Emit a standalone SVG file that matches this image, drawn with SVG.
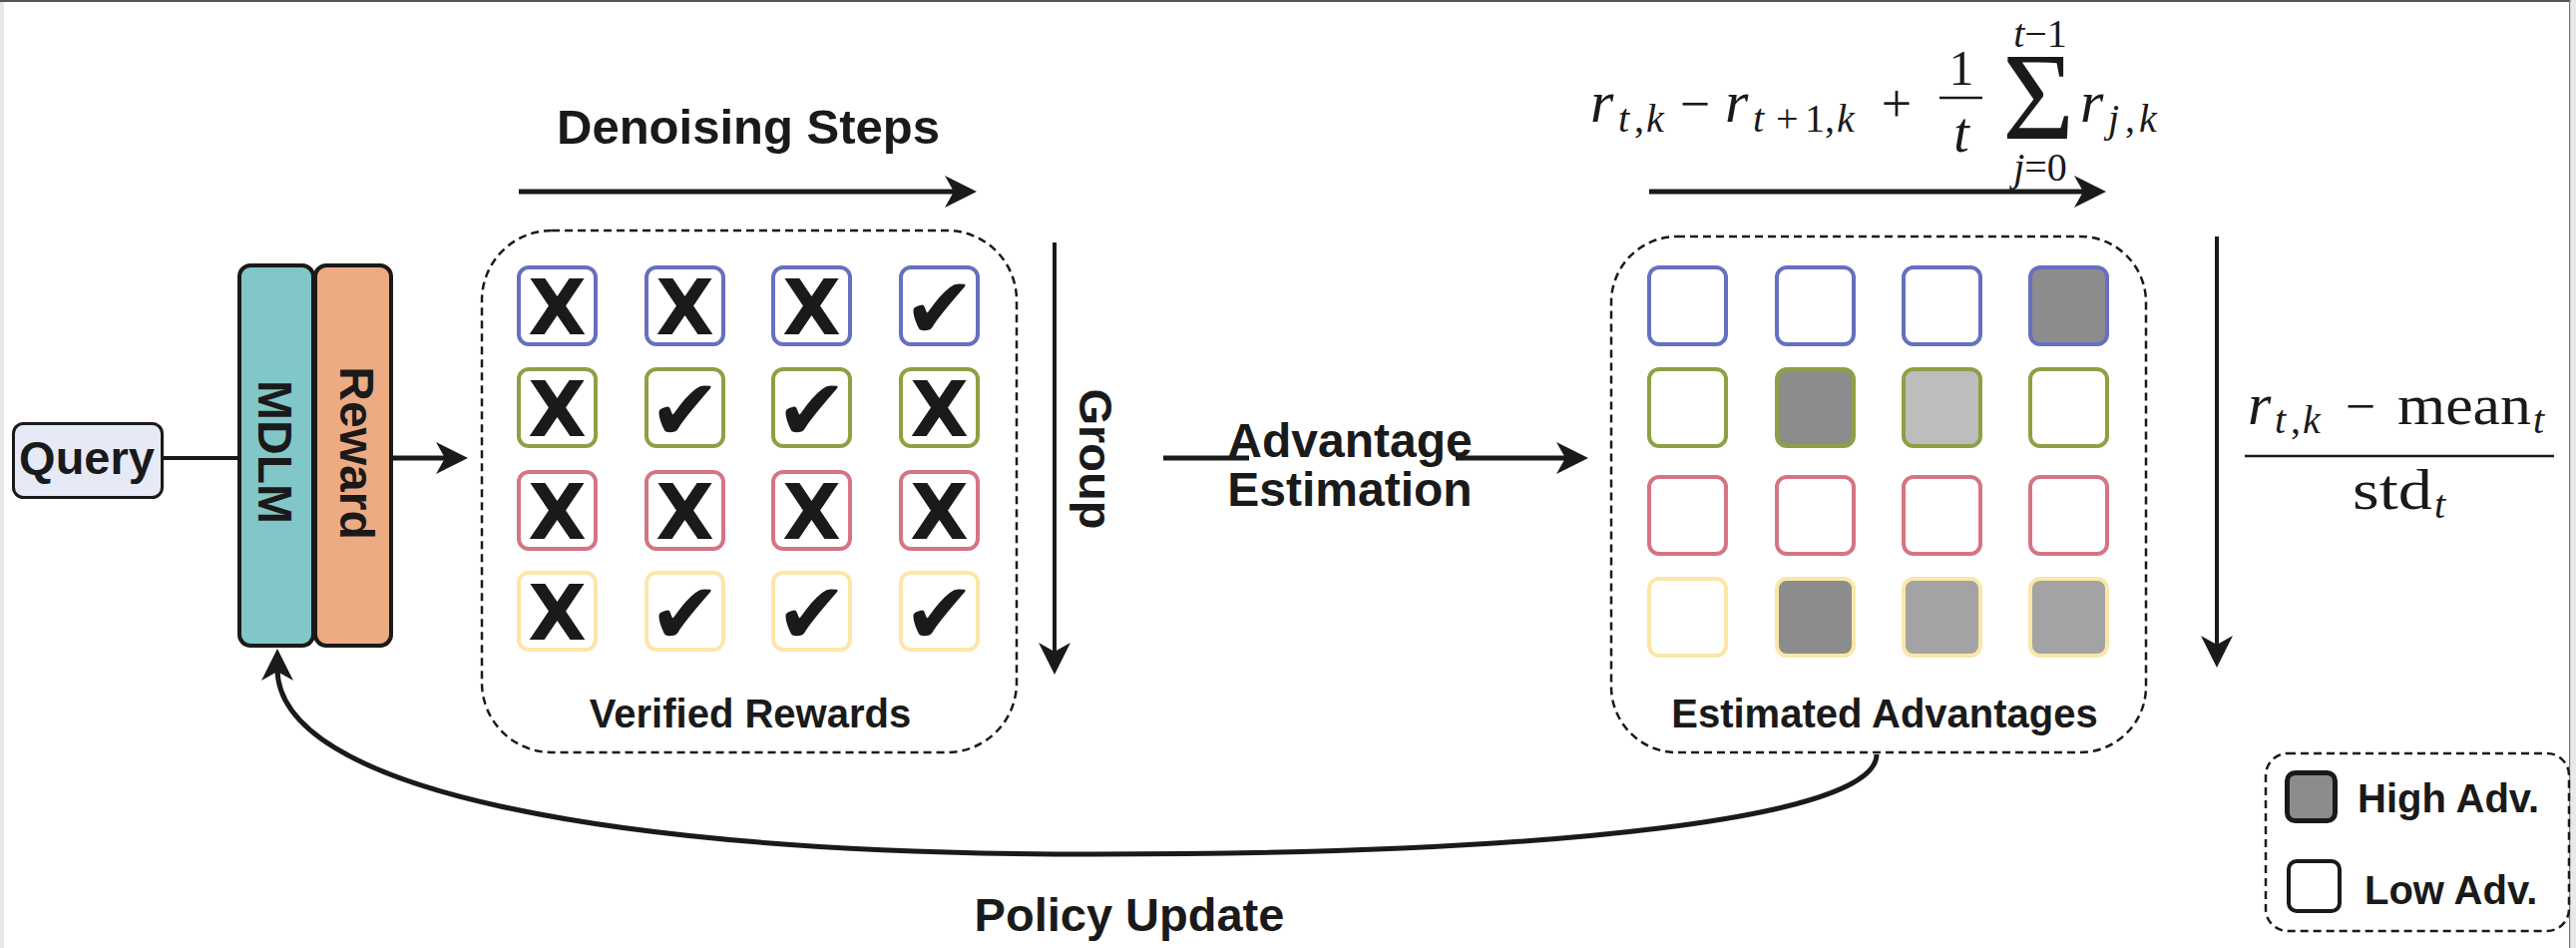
<svg xmlns="http://www.w3.org/2000/svg" width="2582" height="950" viewBox="0 0 2582 950">
<style>
.lbl{font-family:'Liberation Sans',Arial,Helvetica,sans-serif;font-weight:bold;fill:#1a1a1a}
.x{font-family:'DejaVu Sans',sans-serif;font-weight:bold;font-size:76px;text-anchor:middle;fill:#1a1a1a}
.ck{font-family:'DejaVu Sans',sans-serif;font-size:86px;text-anchor:middle;fill:#1a1a1a}
.cell{stroke-width:4;fill:#ffffff}
.b{stroke:#6670c0}.g{stroke:#8ca143}.p{stroke:#d47583}.y{stroke:#fbe7a9}
.dk{fill:#8c8c8c}.md{fill:#a3a3a3}.lt{fill:#bdbdbd}
.dash{fill:none;stroke:#1a1a1a;stroke-width:2.5;stroke-dasharray:8 5}
.edge{fill:none;stroke:#1a1a1a}
.m{font-family:'Liberation Serif','Times New Roman',serif;fill:#1a1a1a}
.it{font-style:italic}
.big{font-size:54px}.var{font-size:60px}.sub{font-size:40px}
</style>
<defs>
<marker id="ah" markerUnits="userSpaceOnUse" viewBox="0 0 32 32" markerWidth="32" markerHeight="32" refX="12" refY="16" orient="auto">
<path d="M0,0 L32,16 L0,32 L9,16 Z" fill="#1a1a1a"/>
</marker>
</defs>
<rect x="0" y="0" width="2582" height="950" fill="#ffffff"/>
<rect x="0" y="0" width="4" height="950" fill="#e3e8ec"/>
<rect x="0" y="0" width="2582" height="2" fill="#555555"/>
<rect x="2575" y="0" width="1.5" height="950" fill="#777777"/>
<rect x="2576.5" y="0" width="5.5" height="950" fill="#e6eaee"/>

<g id="connectors">
<path class="edge" stroke-width="5" d="M520,192 H959" marker-end="url(#ah)"/>
<path class="edge" stroke-width="5" d="M1653,192 H2091" marker-end="url(#ah)"/>
<path class="edge" stroke-width="4" d="M164,459 H238"/>
<path class="edge" stroke-width="5" d="M393,459 H449" marker-end="url(#ah)"/>
<path class="edge" stroke-width="4" d="M1057,243 V656" marker-end="url(#ah)"/>
<path class="edge" stroke-width="4" d="M2222,237 V649" marker-end="url(#ah)"/>
<path class="edge" stroke-width="5" d="M1166,459 H1252"/>
<path class="edge" stroke-width="5" d="M1459,459 H1572" marker-end="url(#ah)"/>
<path class="edge" stroke-width="5" d="M1881,756 C1881,820 1560,856 1100,856 C600,856 278,790 278,670" marker-end="url(#ah)"/>
</g>

<g id="query">
<rect x="13.5" y="424.5" width="149" height="74" rx="10" fill="#e6eaf6" stroke="#1a1a1a" stroke-width="3"/>
<text class="lbl" x="87" y="475" font-size="47" text-anchor="middle">Query</text>
</g>

<g id="mdlm">
<rect x="240" y="266" width="74" height="381" rx="11" fill="#81c7c8" stroke="#1a1a1a" stroke-width="4"/>
<text class="lbl" font-size="48" text-anchor="middle" transform="translate(259,453) rotate(90)">MDLM</text>
</g>

<g id="reward">
<rect x="316" y="266" width="76" height="381" rx="11" fill="#ecab83" stroke="#1a1a1a" stroke-width="4"/>
<text class="lbl" font-size="48" text-anchor="middle" transform="translate(341,454) rotate(90)">Reward</text>
</g>

<g id="denoising-label">
<text class="lbl" x="750" y="144" font-size="49" text-anchor="middle">Denoising Steps</text>
</g>

<g id="group-label">
<text class="lbl" font-size="47" text-anchor="middle" transform="translate(1082,460) rotate(90)">Group</text>
</g>

<g id="verified-rewards">
<rect class="dash" x="483" y="231" width="536" height="523" rx="70"/>
<rect class="cell b" x="520" y="268" width="77" height="77" rx="10"/>
<rect class="cell b" x="648" y="268" width="77" height="77" rx="10"/>
<rect class="cell b" x="775" y="268" width="77" height="77" rx="10"/>
<rect class="cell b" x="903" y="268" width="77" height="77" rx="10"/>
<rect class="cell g" x="520" y="370" width="77" height="77" rx="10"/>
<rect class="cell g" x="648" y="370" width="77" height="77" rx="10"/>
<rect class="cell g" x="775" y="370" width="77" height="77" rx="10"/>
<rect class="cell g" x="903" y="370" width="77" height="77" rx="10"/>
<rect class="cell p" x="520" y="473" width="77" height="77" rx="10"/>
<rect class="cell p" x="648" y="473" width="77" height="77" rx="10"/>
<rect class="cell p" x="775" y="473" width="77" height="77" rx="10"/>
<rect class="cell p" x="903" y="473" width="77" height="77" rx="10"/>
<rect class="cell y" x="520" y="574" width="77" height="77" rx="10"/>
<rect class="cell y" x="648" y="574" width="77" height="77" rx="10"/>
<rect class="cell y" x="775" y="574" width="77" height="77" rx="10"/>
<rect class="cell y" x="903" y="574" width="77" height="77" rx="10"/>
<text class="x" x="558.5" y="335">X</text>
<text class="x" x="686.5" y="335">X</text>
<text class="x" x="813.5" y="335">X</text>
<text class="ck" x="941.5" y="339">✔</text>
<text class="x" x="558.5" y="437">X</text>
<text class="ck" x="686.5" y="441">✔</text>
<text class="ck" x="813.5" y="441">✔</text>
<text class="x" x="941.5" y="437">X</text>
<text class="x" x="558.5" y="540">X</text>
<text class="x" x="686.5" y="540">X</text>
<text class="x" x="813.5" y="540">X</text>
<text class="x" x="941.5" y="540">X</text>
<text class="x" x="558.5" y="641">X</text>
<text class="ck" x="686.5" y="645">✔</text>
<text class="ck" x="813.5" y="645">✔</text>
<text class="ck" x="941.5" y="645">✔</text>
<text class="lbl" x="752" y="729" font-size="40" text-anchor="middle">Verified Rewards</text>
</g>

<g id="advantage-estimation-label">
<text class="lbl" x="1353" y="458" font-size="48" text-anchor="middle">Advantage</text>
<text class="lbl" x="1353" y="507" font-size="48" text-anchor="middle">Estimation</text>
</g>

<g id="estimated-advantages">
<rect class="dash" x="1615" y="237" width="536" height="517" rx="66"/>
<rect class="cell b" x="1653" y="268" width="77" height="77" rx="10"/>
<rect class="cell b" x="1781" y="268" width="77" height="77" rx="10"/>
<rect class="cell b" x="1908" y="268" width="77" height="77" rx="10"/>
<rect class="cell b dk" x="2035" y="268" width="77" height="77" rx="10"/>
<rect class="cell g" x="1653" y="370" width="77" height="77" rx="10"/>
<rect class="cell g dk" x="1781" y="370" width="77" height="77" rx="10"/>
<rect class="cell g lt" x="1908" y="370" width="77" height="77" rx="10"/>
<rect class="cell g" x="2035" y="370" width="77" height="77" rx="10"/>
<rect class="cell p" x="1653" y="478" width="77" height="77" rx="10"/>
<rect class="cell p" x="1781" y="478" width="77" height="77" rx="10"/>
<rect class="cell p" x="1908" y="478" width="77" height="77" rx="10"/>
<rect class="cell p" x="2035" y="478" width="77" height="77" rx="10"/>
<rect class="cell y" x="1653" y="580" width="77" height="77" rx="10"/>
<rect class="cell y dk" x="1781" y="580" width="77" height="77" rx="10"/>
<rect class="cell y md" x="1908" y="580" width="77" height="77" rx="10"/>
<rect class="cell y md" x="2035" y="580" width="77" height="77" rx="10"/>
<text class="lbl" x="1889" y="729" font-size="40" text-anchor="middle">Estimated Advantages</text>
</g>

<g id="formula-top">
<text class="m it var" x="1594" y="122">r</text>
<text class="m sub" y="132"><tspan class="it" x="1622">t</tspan><tspan x="1638">,</tspan><tspan class="it" x="1650">k</tspan></text>
<text class="m big" x="1699" y="122" text-anchor="middle">−</text>
<text class="m it var" x="1729" y="122">r</text>
<text class="m sub" y="132"><tspan class="it" x="1757">t</tspan><tspan x="1780">+</tspan><tspan x="1809">1</tspan><tspan x="1829">,</tspan><tspan class="it" x="1841">k</tspan></text>
<text class="m big" x="1901" y="122" text-anchor="middle">+</text>
<text class="m" x="1966" y="85" font-size="50" text-anchor="middle">1</text>
<line x1="1944" y1="98" x2="1987" y2="98" stroke="#1a1a1a" stroke-width="2.5"/>
<text class="m it" x="1966" y="152" font-size="56" text-anchor="middle">t</text>
<text class="m" x="2043" y="139" font-size="124" text-anchor="middle">Σ</text>
<text class="m sub" x="2045" y="47" text-anchor="middle"><tspan class="it">t</tspan>−1</text>
<text class="m sub" x="2045" y="181" text-anchor="middle"><tspan class="it">j</tspan>=0</text>
<text class="m it var" x="2085" y="122">r</text>
<text class="m sub" y="132"><tspan class="it" x="2113">j</tspan><tspan x="2130">,</tspan><tspan class="it" x="2144">k</tspan></text>
</g>

<g id="formula-right">
<text class="m it var" x="2253" y="425">r</text>
<text class="m sub" y="434"><tspan class="it" x="2280">t</tspan><tspan x="2296">,</tspan><tspan class="it" x="2308">k</tspan></text>
<text class="m big" x="2366" y="425" text-anchor="middle">−</text>
<text class="m" x="2403" y="425" font-size="56" textLength="134" lengthAdjust="spacingAndGlyphs">mean</text>
<text class="m it sub" x="2539" y="434">t</text>
<line x1="2250" y1="457" x2="2560" y2="457" stroke="#1a1a1a" stroke-width="2.5"/>
<text class="m" x="2358" y="510" font-size="56" textLength="80" lengthAdjust="spacingAndGlyphs">std</text>
<text class="m it sub" x="2440" y="519">t</text>
</g>

<g id="policy-update-label">
<text class="lbl" x="1132" y="933" font-size="47" text-anchor="middle">Policy Update</text>
</g>

<g id="legend">
<rect class="dash" x="2271" y="755" width="304" height="178" rx="22"/>
<rect x="2292.5" y="774.5" width="48" height="48" rx="8" fill="#8c8c8c" stroke="#1a1a1a" stroke-width="5"/>
<text class="lbl" x="2363" y="814" font-size="40">High Adv.</text>
<rect x="2294" y="863" width="51" height="50" rx="8" fill="#ffffff" stroke="#1a1a1a" stroke-width="4"/>
<text class="lbl" x="2370" y="906" font-size="40">Low Adv.</text>
</g>
</svg>
